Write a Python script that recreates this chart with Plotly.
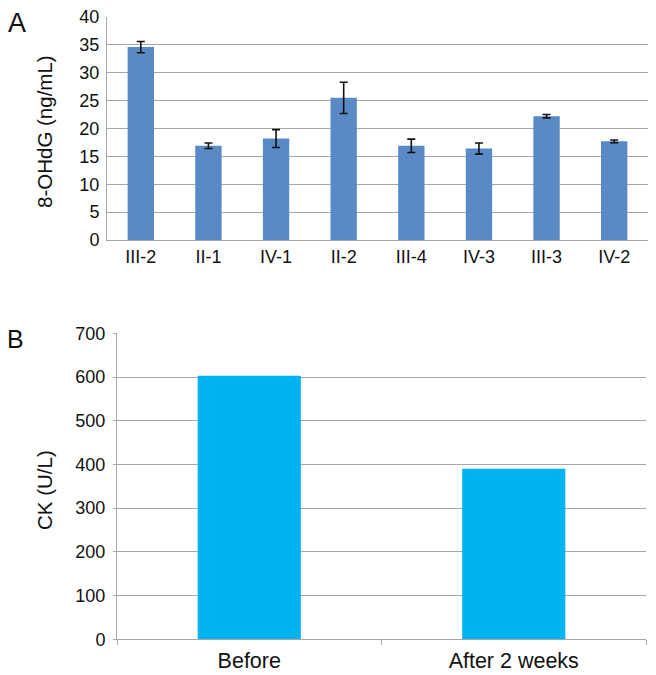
import plotly.graph_objects as go

# Panel A data
a_categories = ["III-2", "II-1", "IV-1", "II-2", "III-4", "IV-3", "III-3", "IV-2"]
a_values = [34.6, 16.9, 18.2, 25.5, 16.9, 16.4, 22.2, 17.7]
a_errors = [1.0, 0.5, 1.6, 2.8, 1.2, 1.0, 0.3, 0.25]
a_yticks = [0, 5, 10, 15, 20, 25, 30, 35, 40]

# Panel B data
b_categories = ["Before", "After 2 weeks"]
b_values = [603, 390]
b_yticks = [0, 100, 200, 300, 400, 500, 600, 700]

FONT = "Liberation Sans, Arial, Helvetica, sans-serif"
GRID = "#A8A8A8"
TXT = "#111111"

# page has an 8px body margin, so the figure is laid out in a 648x667 box
W, H = 648, 667
OFF = 8


def px_x(x):
    return (x - OFF) / W


def px_y(y):
    return (H - (y - OFF)) / H


fig = go.Figure()
fig.add_trace(go.Bar(
    x=a_categories, y=a_values,
    marker=dict(color="#5A8AC6", line=dict(width=0)),
    error_y=dict(type="data", array=a_errors, visible=True,
                 color="#111111", thickness=1.6, width=4),
    xaxis="x", yaxis="y", showlegend=False,
))
fig.add_trace(go.Bar(
    x=b_categories, y=b_values,
    marker=dict(color="#00B5EF", line=dict(width=0)),
    xaxis="x2", yaxis="y2", showlegend=False,
))

fig.update_layout(
    template="none",
    width=W, height=H,
    margin=dict(l=0, r=0, t=0, b=0, pad=0),
    paper_bgcolor="white", plot_bgcolor="white",
    font=dict(family=FONT, color=TXT, size=16),
    bargap=0.61,
    xaxis=dict(domain=[px_x(107), px_x(648)], anchor="y", automargin=False,
               showline=True, linecolor=GRID, linewidth=1,
               ticks="", tickfont=dict(size=18, color=TXT),
               ticklabelstandoff=0, ticklabeloverflow="allow",
               showgrid=False),
    yaxis=dict(domain=[px_y(240), px_y(17)], anchor="x", automargin=False,
               range=[0, 40], tickvals=a_yticks,
               showline=True, linecolor=GRID, linewidth=1,
               showgrid=True, gridcolor=GRID, gridwidth=1,
               ticks="", ticklabelstandoff=3, ticklabeloverflow="allow",
               tickfont=dict(size=18, color=TXT),
               zeroline=False),
    xaxis2=dict(domain=[px_x(117), px_x(646)], anchor="y2", automargin=False,
                showline=True, linecolor=GRID, linewidth=1,
                ticks="outside", tickson="boundaries", ticklen=5, tickcolor=GRID,
                tickfont=dict(size=21.5, color=TXT),
                ticklabelstandoff=2, ticklabeloverflow="allow",
                showgrid=False),
    yaxis2=dict(domain=[px_y(639.3), px_y(333.3)], anchor="x2", automargin=False,
                range=[0, 700], tickvals=b_yticks,
                showline=True, linecolor=GRID, linewidth=1,
                showgrid=True, gridcolor=GRID, gridwidth=1,
                ticks="outside", ticklen=3, tickcolor=GRID,
                ticklabelstandoff=4, ticklabeloverflow="allow",
                tickfont=dict(size=18, color=TXT),
                zeroline=False),
    annotations=[
        dict(text="8-OHdG (ng/mL)", x=px_x(45), y=px_y(132), xref="paper", yref="paper",
             xanchor="center", yanchor="middle", textangle=-90, showarrow=False,
             font=dict(size=20.5, color=TXT, family=FONT)),
        dict(text="CK (U/L)", x=px_x(44), y=px_y(490), xref="paper", yref="paper",
             xanchor="center", yanchor="middle", textangle=-90, showarrow=False,
             font=dict(size=20.5, color=TXT, family=FONT)),
        dict(text="A", x=px_x(16.5), y=px_y(23.5), xref="paper", yref="paper",
             xanchor="center", yanchor="middle", showarrow=False,
             font=dict(size=27, color=TXT, family=FONT)),
        dict(text="B", x=px_x(15.5), y=px_y(339), xref="paper", yref="paper",
             xanchor="center", yanchor="middle", showarrow=False,
             font=dict(size=25, color=TXT, family=FONT)),
    ],
)

fig.write_html("out.html")
